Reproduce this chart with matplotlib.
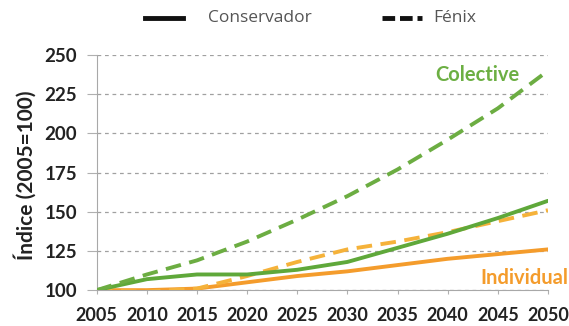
import matplotlib
matplotlib.use("Agg")
import matplotlib.pyplot as plt
from matplotlib.lines import Line2D

years = [2005, 2010, 2015, 2020, 2025, 2030, 2035, 2040, 2045, 2050]
colectivo_fenix = [100, 110, 119, 131, 145, 160, 177, 196, 216, 240]
colectivo_conservador = [100, 107, 110, 110, 113, 118, 127, 136, 146, 157]
individual_fenix = [100, 99, 101, 109, 118, 126, 131, 137, 144, 151]
individual_conservador = [100, 100, 101, 105, 109, 112, 116, 120, 123, 126]

yticks = [100, 125, 150, 175, 200, 225, 250]
legend_labels = ['Conservador', 'Fénix']

green = "#5fa83a"
green_dash = "#6cad42"
orange = "#f49c2c"
orange_dash = "#f5b23a"

plt.rcParams['font.family'] = ['Lato', 'DejaVu Sans']

W, H = 569, 326
fig = plt.figure(figsize=(W / 100, H / 100), dpi=100)
ax = fig.add_axes([0.170, 0.110, 0.793, 0.721])

ax.plot(years, individual_conservador, color=orange, lw=2.8, solid_capstyle='round', zorder=3)
ax.plot(years, individual_fenix, color=orange_dash, lw=2.8, ls=(0, (4, 2.2)), zorder=3)
ax.plot(years, colectivo_conservador, color=green, lw=2.8, solid_capstyle='round', zorder=4)
ax.plot(years, colectivo_fenix, color=green_dash, lw=2.8, ls=(0, (4, 2.2)), zorder=4)

ax.set_xlim(2005, 2050)
ax.set_ylim(100, 250)
ax.set_xticks(years)
ax.set_yticks(yticks)
ax.tick_params(axis='x', direction='out', length=3, color='#b0b0b0', labelsize=13,
               labelcolor='#222222', pad=9)
ax.tick_params(axis='y', direction='out', length=7, color='#b0b0b0', labelsize=13.5,
               labelcolor='#222222', pad=7)
for lab in ax.get_xticklabels() + ax.get_yticklabels():
    lab.set_fontweight('bold')

ax.grid(axis='y', color='#a0a0a0', ls=(0, (3, 3)), lw=0.9)
ax.grid(axis='x', visible=False)
for s in ['top', 'right']:
    ax.spines[s].set_visible(False)
ax.spines['left'].set_color('#a8a8a8')
ax.spines['bottom'].set_color('#a8a8a8')

ax.set_ylabel('Índice (2005=100)', fontsize=15, fontweight='bold', color='#222222')
ax.yaxis.set_label_coords(25 / W, 1 - 175 / H, transform=fig.transFigure)
ax.yaxis.label.set_va('center')

ax.text(2047.2, 237, 'Colective', color="#6caf43", fontsize=14.5, fontweight='bold',
        ha='right', va='center')
ax.text(2052.0, 108, 'Individual', color=orange, fontsize=14.5, fontweight='bold',
        ha='right', va='center', clip_on=False)

# legend drawn in figure pixels
ly = 1 - 18 / H
fig.add_artist(Line2D([145 / W, 183 / W], [ly, ly], color='#111111', lw=3.5,
                      transform=fig.transFigure))
fig.text(208 / W, ly, legend_labels[0], fontsize=12.5, color='#555555', va='center',
         ha='left', family=['Open Sans', 'DejaVu Sans'])
fig.add_artist(Line2D([382 / W, 422 / W], [ly, ly], color='#111111', lw=3.5,
                      ls=(0, (2.6, 1.0)), transform=fig.transFigure))
fig.text(433 / W, ly, legend_labels[1], fontsize=12.5, color='#555555', va='center',
         ha='left', family=['Open Sans', 'DejaVu Sans'])

fig.savefig('out.png', dpi=100)
